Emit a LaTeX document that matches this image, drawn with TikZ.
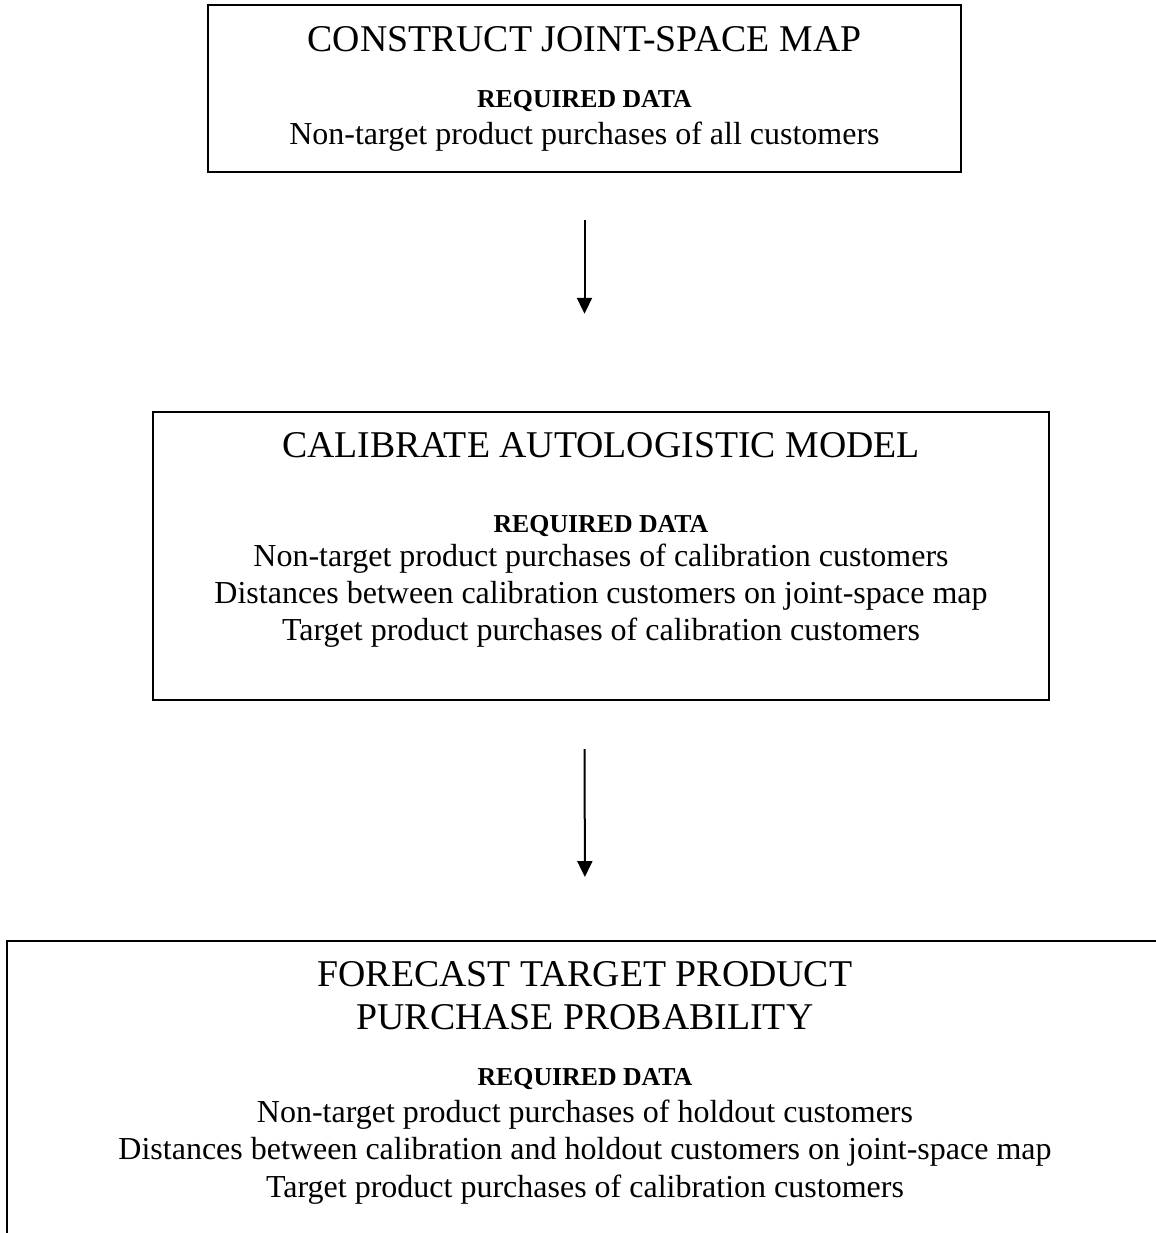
\documentclass[tikz,border=0pt]{standalone}
\usepackage{fontspec}
\setmainfont{Liberation Serif}
\usetikzlibrary{arrows.meta}

\tikzset{
    stepbox/.style={draw, line width=1.2pt, inner sep=0pt},
    titletext/.style={anchor=base, inner sep=0pt, font=\fontsize{18.9pt}{22pt}\selectfont},
    reqtext/.style={anchor=base, inner sep=0pt, font=\fontsize{12.9pt}{15pt}\selectfont\bfseries},
    datatext/.style={anchor=base, inner sep=0pt, font=\fontsize{16pt}{19pt}\selectfont},
    flow/.style={line width=1pt, -{Triangle[length=8pt, width=7.5pt]}}
}

\begin{document}
\begin{tikzpicture}[x=0.5pt, y=-0.5pt]
    \useasboundingbox (0,0) rectangle (1156,1233);

    % First box
    \node[stepbox, minimum width=376.5pt, minimum height=83.5pt] (b1) at (584.5,88.5) {};
    \node[titletext] (t1) at (584.5,51) {CONSTRUCT JOINT-SPACE MAP};
    \node[reqtext] (r1) at (584.5,107) {REQUIRED DATA};
    \node[datatext] (d1a) at (584.5,144) {Non-target product purchases of all customers};

    % Second box
    \node[stepbox, minimum width=448pt, minimum height=144pt] (b2) at (601,556) {};
    \node[titletext] (t2) at (601,457) {CALIBRATE AUTOLOGISTIC MODEL};
    \node[reqtext] (r2) at (601,532) {REQUIRED DATA};
    \node[datatext] (d2a) at (601,566) {Non-target product purchases of calibration customers};
    \node[datatext] (d2b) at (601,603) {Distances between calibration customers on joint-space map};
    \node[datatext] (d2c) at (601,640) {Target product purchases of calibration customers};

    % Third box (runs off the page)
    \coordinate (b3) at (585,941);
    \draw[line width=1.2pt] (1160,941) -- (7,941) -- (7,1240);
    \node[titletext] (t3a) at (585,986) {FORECAST TARGET PRODUCT};
    \node[titletext] (t3b) at (585,1029) {PURCHASE PROBABILITY};
    \node[reqtext] (r3) at (585,1085) {REQUIRED DATA};
    \node[datatext] (d3a) at (585,1122) {Non-target product purchases of holdout customers};
    \node[datatext] (d3b) at (585,1159) {Distances between calibration and holdout customers on joint-space map};
    \node[datatext] (d3c) at (585,1197) {Target product purchases of calibration customers};

    % Arrows between the steps
    \draw[flow, shorten <=23.5pt, shorten >=48.5pt] (b1) -- (b1 |- b2.north);
    \draw[flow, shorten <=24pt, shorten >=32pt] (b1 |- b2.south) -- (b3);
\end{tikzpicture}
\end{document}
